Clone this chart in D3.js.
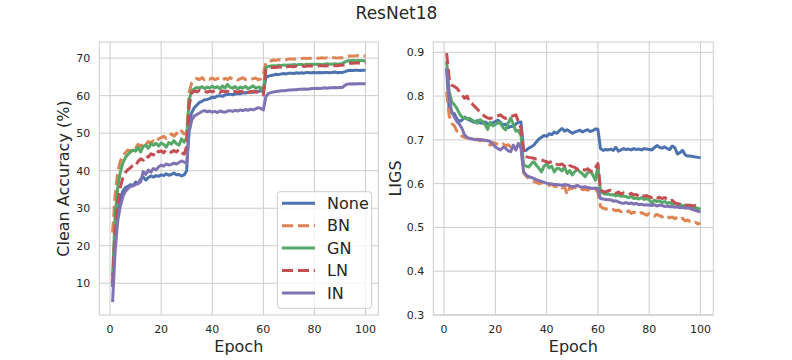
<!DOCTYPE html>
<html>
<head>
<meta charset="utf-8">
<script src="https://cdn.jsdelivr.net/npm/d3@7"></script>
<style>
  body { margin: 0; background: #fff; }
  svg { display: block; font-family: "DejaVu Sans", sans-serif; }
</style>
</head>
<body>
<div id="chart"></div>
<script>
const title = "ResNet18";
const methods = ["None", "BN", "GN", "LN", "IN"];
const colors = ["#4c72b0", "#dd8452", "#55a868", "#c44e52", "#8172b3"];
const dashed = [false, true, false, true, false];
const epochs = d3.range(1, 101);

const xTicks = [0, 20, 40, 60, 80, 100];
const accTicks = [10, 20, 30, 40, 50, 60, 70];
const ligsTicks = [0.3, 0.4, 0.5, 0.6, 0.7, 0.8, 0.9];

// clean accuracy (%) per epoch
const accNone = [
  9.0, 22.0, 29.0, 32.5, 34.5, 35.5, 35.8, 36.3, 36.0, 37.0,
  36.5, 37.8, 38.3, 37.5, 38.2, 38.6, 38.3, 38.7, 38.5, 38.9,
  38.7, 39.2, 38.8, 39.0, 39.4, 38.9, 39.0, 38.6, 38.9, 40.0,
  53.0, 55.5, 56.8, 57.5, 58.2, 58.5, 58.9, 59.0, 59.2, 59.6,
  59.5, 59.9, 60.0, 59.8, 60.2, 60.3, 60.4, 60.2, 60.5, 60.6,
  60.5, 60.8, 60.7, 60.9, 61.0, 60.9, 61.2, 61.1, 61.4, 61.0,
  64.8, 65.2, 65.4, 65.5, 65.7, 65.6, 65.8, 65.9, 65.8, 66.0,
  66.0, 65.9, 66.1, 66.0, 66.1, 66.0, 66.2, 66.1, 66.1, 66.2,
  66.1, 66.2, 66.1, 66.2, 66.2, 66.1, 66.2, 66.3, 66.1, 66.2,
  66.2, 66.4, 66.7, 66.8, 66.7, 66.8, 66.8, 66.7, 66.8, 66.8
];
const accBN = [
  23.5, 33.5, 39.5, 42.5, 44.0, 44.8, 45.5, 45.2, 46.3, 46.0,
  47.0, 46.5, 47.5, 47.0, 47.8, 47.4, 48.0, 47.6, 48.5, 48.8,
  49.2, 48.6, 49.3, 49.8, 49.2, 50.0, 49.5, 50.6, 49.8, 50.2,
  61.0, 63.5, 64.2, 64.6, 64.3, 64.8, 64.2, 64.6, 64.4, 64.7,
  64.3, 64.5, 64.8, 64.2, 64.6, 64.3, 64.8, 64.4, 64.6, 64.2,
  64.5, 64.8, 64.3, 64.6, 64.4, 64.5, 64.7, 64.2, 64.5, 65.8,
  68.8, 69.2, 69.3, 69.5, 69.4, 69.6, 69.5, 69.7, 69.6, 69.8,
  69.8, 69.7, 69.9, 69.8, 69.9, 70.0, 69.9, 70.0, 69.9, 70.1,
  70.0, 70.0, 70.1, 70.0, 70.1, 70.0, 70.1, 70.1, 70.0, 70.1,
  70.1, 70.3, 70.5, 70.6, 70.6, 70.6, 70.7, 70.6, 70.6, 70.6
];
const accGN = [
  12.0, 28.0, 35.5, 39.5, 42.0, 43.5, 44.3, 45.0, 45.5, 45.2,
  46.2, 45.0, 46.5, 46.8, 46.0, 47.2, 46.8, 47.3, 46.6, 47.4,
  47.0, 46.3, 47.5, 47.1, 48.0, 47.2, 46.8, 48.5, 47.6, 48.8,
  59.0, 61.3, 61.8, 62.2, 62.0, 62.4, 61.9, 62.3, 62.0, 62.5,
  62.1, 62.4, 61.8, 62.6, 62.0, 63.0, 62.2, 62.0, 62.4, 61.8,
  62.3, 62.0, 62.5, 61.9, 62.2, 62.6, 62.0, 62.3, 62.1, 61.0,
  67.5, 67.8, 67.9, 68.0, 67.9, 68.1, 68.0, 68.2, 68.1, 68.2,
  68.2, 68.3, 68.2, 68.3, 68.3, 68.2, 68.4, 68.3, 68.4, 68.3,
  68.4, 68.4, 68.3, 68.4, 68.5, 68.4, 68.4, 68.5, 68.4, 68.5,
  68.6, 69.0, 69.3, 69.3, 69.4, 69.3, 69.4, 69.4, 69.3, 69.3
];
const accLN = [
  10.0, 24.5, 31.5, 35.5, 38.0, 39.5, 40.3, 40.8, 41.5, 41.3,
  42.5, 43.2, 42.8, 44.0, 43.6, 44.5, 44.2, 45.5, 45.0, 45.3,
  44.8, 45.6, 45.2, 44.9, 45.4, 45.0, 45.7, 44.8, 44.4, 46.5,
  57.5, 60.8, 61.2, 61.0, 61.4, 61.1, 61.3, 60.9, 61.2, 61.0,
  61.4, 61.1, 60.8, 61.3, 61.0, 61.2, 60.9, 61.3, 61.1, 60.9,
  61.2, 61.0, 61.3, 60.8, 61.1, 61.2, 60.9, 61.0, 60.6, 60.2,
  67.0, 67.4, 67.5, 67.6, 67.5, 67.7, 67.6, 67.8, 67.7, 67.8,
  67.8, 67.7, 67.9, 67.8, 67.9, 67.8, 67.9, 68.0, 67.9, 68.0,
  67.9, 68.0, 68.0, 67.9, 68.0, 68.0, 68.1, 68.0, 68.0, 68.1,
  68.1, 68.4, 68.6, 68.7, 68.6, 68.7, 68.7, 68.6, 68.7, 68.7
];
const accIN = [
  5.0, 18.5, 26.5, 30.5, 33.0, 34.5, 35.2, 35.8, 36.0, 36.3,
  36.8, 37.0, 39.8, 39.0, 40.2, 39.6, 40.6, 40.2, 41.0, 41.5,
  41.2, 41.8, 41.5, 41.7, 42.0, 41.8, 42.2, 42.6, 42.3, 42.0,
  50.5, 53.5, 54.6, 55.0, 55.4, 55.8, 56.0, 55.7, 55.9, 55.6,
  55.8, 55.5, 55.9, 55.7, 55.6, 55.9, 56.0, 55.8, 56.1, 55.9,
  56.2, 56.0, 56.3, 56.1, 56.4, 56.2, 56.5, 56.8, 56.6, 56.2,
  59.8, 60.6, 60.8, 61.0, 61.1, 61.2, 61.3, 61.3, 61.4, 61.5,
  61.5, 61.6, 61.6, 61.7, 61.7, 61.8, 61.7, 61.8, 61.9, 61.9,
  62.0, 61.9, 62.0, 62.1, 62.0, 62.1, 62.1, 62.2, 62.1, 62.2,
  62.2, 62.8, 63.1, 63.1, 63.2, 63.1, 63.2, 63.2, 63.2, 63.2
];

// LIGS per epoch
const ligsNone = [
  .863, .765, .762, .760, .748, .742, .745, .752, .748, .745,
  .742, .740, .744, .739, .738, .741, .737, .735, .739, .742,
  .745, .740, .734, .736, .728, .731, .730, .736, .740, .741,
  .675, .676, .681, .684, .688, .695, .702, .706, .710, .708,
  .714, .712, .718, .715, .721, .726, .720, .723, .719, .715,
  .718, .720, .722, .718, .721, .723, .719, .721, .725, .724,
  .680, .676, .678, .677, .679, .676, .683, .674, .677, .680,
  .678, .679, .677, .680, .678, .679, .677, .680, .679, .678,
  .677, .682, .687, .683, .681, .684, .680, .678, .686, .682,
  .668, .671, .676, .666, .663, .663, .662, .661, .660, .659
];
const ligsBN = [
  .810, .755, .738, .732, .720, .718, .708, .706, .704, .703,
  .705, .700, .702, .698, .700, .696, .692, .688, .694, .692,
  .690, .688, .691, .686, .689, .684, .687, .683, .688, .690,
  .625, .617, .612, .608, .605, .603, .600, .602, .598, .597,
  .596, .599, .594, .593, .595, .590, .593, .575, .591, .589,
  .592, .588, .590, .586, .588, .585, .589, .586, .588, .580,
  .548, .544, .542, .543, .540, .541, .538, .540, .536, .537,
  .534, .538, .532, .535, .533, .530, .534, .531, .528, .532,
  .529, .526, .530, .527, .524, .528, .525, .522, .524, .520,
  .523, .518, .521, .515, .517, .513, .510, .512, .508, .510
];
const ligsGN = [
  .880, .810, .787, .780, .772, .760, .752, .750, .748, .749,
  .745, .742, .738, .746, .742, .735, .724, .740, .732, .735,
  .740, .738, .728, .723, .738, .750, .735, .720, .722, .710,
  .643, .640, .638, .645, .650, .642, .635, .627, .640, .645,
  .636, .640, .627, .635, .634, .629, .638, .623, .630, .620,
  .628, .632, .627, .622, .616, .625, .629, .620, .608, .640,
  .582, .578, .576, .577, .574, .575, .572, .574, .571, .572,
  .570, .568, .571, .566, .567, .565, .568, .564, .566, .563,
  .556, .562, .559, .561, .557, .559, .555, .557, .553, .555,
  .551, .553, .549, .550, .547, .548, .545, .546, .543, .542
];
const ligsLN = [
  .898, .840, .825, .822, .818, .810, .803, .795, .800, .785,
  .782, .776, .770, .764, .758, .753, .750, .749, .751, .753,
  .755, .757, .752, .749, .751, .753, .755, .757, .742, .726,
  .677, .662, .660, .659, .658, .656, .655, .654, .652, .650,
  .648, .651, .646, .644, .643, .645, .640, .635, .641, .639,
  .637, .633, .636, .632, .631, .634, .629, .627, .636, .646,
  .586, .582, .581, .584, .585, .580, .578, .581, .576, .579,
  .577, .575, .578, .574, .575, .572, .576, .571, .573, .570,
  .568, .571, .567, .569, .566, .568, .565, .560, .562, .556,
  .555, .553, .551, .552, .550, .551, .549, .550, .548, .547
];
const ligsIN = [
  .863, .795, .764, .752, .742, .735, .726, .711, .706, .703,
  .702, .701, .700, .701, .700, .699, .698, .696, .690, .684,
  .680, .677, .683, .681, .675, .673, .688, .677, .692, .681,
  .627, .620, .616, .614, .612, .609, .607, .605, .603, .601,
  .600, .599, .598, .598, .597, .596, .598, .597, .595, .593,
  .594, .596, .593, .592, .593, .591, .590, .589, .590, .589,
  .566, .565, .564, .563, .563, .560, .561, .558, .556, .555,
  .557, .554, .556, .553, .555, .552, .553, .551, .552, .551,
  .550, .552, .549, .551, .550, .548, .549, .547, .548, .546,
  .547, .545, .546, .544, .545, .543, .541, .539, .537, .536
];

const accSeries = [accNone, accBN, accGN, accLN, accIN];
const ligsSeries = [ligsNone, ligsBN, ligsGN, ligsLN, ligsIN];

const width = 792;
const height = 360;
const plotTop = 42, plotBottom = 315;

const svg = d3.select("#chart").append("svg")
  .attr("width", width)
  .attr("height", height);

svg.append("text")
  .attr("x", 396.5)
  .attr("y", 19)
  .attr("text-anchor", "middle")
  .attr("font-size", 17)
  .attr("fill", "#262626")
  .text(title);

const drawPanel = (id, left, right, yDomain, yTicks, yFmt, series, yLabel, yLabelX) => {
  const x = d3.scaleLinear().domain([-4.2, 105]).range([left, right]);
  const y = d3.scaleLinear().domain(yDomain).range([plotBottom, plotTop]);
  const g = svg.append("g");

  // grid
  g.selectAll(".vgrid").data(xTicks).join("line")
    .attr("x1", (d) => x(d)).attr("x2", (d) => x(d))
    .attr("y1", plotTop).attr("y2", plotBottom)
    .attr("stroke", "#cccccc").attr("stroke-width", 1);
  g.selectAll(".hgrid").data(yTicks).join("line")
    .attr("x1", left).attr("x2", right)
    .attr("y1", (d) => y(d)).attr("y2", (d) => y(d))
    .attr("stroke", "#cccccc").attr("stroke-width", 1);

  // tick labels
  g.selectAll(".xt").data(xTicks).join("text")
    .attr("x", (d) => x(d)).attr("y", 332.5)
    .attr("text-anchor", "middle")
    .attr("font-size", 11).attr("fill", "#262626")
    .text((d) => d);
  g.selectAll(".yt").data(yTicks).join("text")
    .attr("x", left - 9).attr("y", (d) => y(d))
    .attr("dy", "0.36em")
    .attr("text-anchor", "end")
    .attr("font-size", 11).attr("fill", "#262626")
    .text(yFmt);

  // axis labels
  g.append("text")
    .attr("x", (left + right) / 2).attr("y", 352)
    .attr("text-anchor", "middle")
    .attr("font-size", 16).attr("fill", "#262626")
    .text("Epoch");
  g.append("text")
    .attr("transform", `translate(${yLabelX},${(plotTop + plotBottom) / 2}) rotate(-90)`)
    .attr("text-anchor", "middle")
    .attr("font-size", 16).attr("fill", "#262626")
    .text(yLabel);

  svg.append("clipPath").attr("id", id)
    .append("rect")
    .attr("x", left).attr("y", plotTop)
    .attr("width", right - left).attr("height", plotBottom - plotTop);

  const line = d3.line()
    .x((d, i) => x(epochs[i]))
    .y((d) => y(d));

  g.append("g").attr("clip-path", `url(#${id})`)
    .selectAll("path").data(series).join("path")
    .attr("d", line)
    .attr("fill", "none")
    .attr("stroke", (d, i) => colors[i])
    .attr("stroke-width", 3)
    .attr("stroke-linejoin", "round")
    .attr("stroke-dasharray", (d, i) => dashed[i] ? "11.1,4.8" : null);

  // frame
  g.append("rect")
    .attr("x", left).attr("y", plotTop)
    .attr("width", right - left).attr("height", plotBottom - plotTop)
    .attr("fill", "none").attr("stroke", "#cccccc").attr("stroke-width", 1);

  return g;
};

const accPanel = drawPanel("clipAcc", 99.3, 378.3, [1.55, 74.3], accTicks, (d) => d,
  accSeries, "Clean Accuracy (%)", 69);
drawPanel("clipLigs", 433.3, 713.3, [0.3, 0.9235], ligsTicks, d3.format(".1f"),
  ligsSeries, "LIGS", 400.5);

// legend
const legend = accPanel.append("g");
legend.append("rect")
  .attr("x", 277.3).attr("y", 191.7)
  .attr("width", 94.4).attr("height", 116.6)
  .attr("rx", 3)
  .attr("fill", "#ffffff").attr("fill-opacity", 0.8)
  .attr("stroke", "#cccccc").attr("stroke-width", 1);

const rows = legend.selectAll(".row").data(methods).join("g")
  .attr("transform", (d, i) => `translate(0,${203.3 + i * 22.4})`);
rows.append("line")
  .attr("x1", 282).attr("x2", 315)
  .attr("stroke", (d, i) => colors[i])
  .attr("stroke-width", 3)
  .attr("stroke-dasharray", (d, i) => dashed[i] ? "11.1,4.8" : null);
rows.append("text")
  .attr("x", 327).attr("dy", "0.36em")
  .attr("font-size", 16).attr("fill", "#262626")
  .text((d) => d);
</script>
</body>
</html>
